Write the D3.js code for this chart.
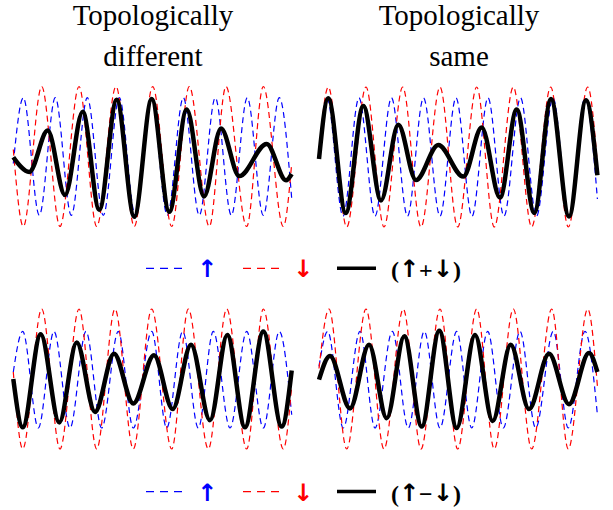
<!DOCTYPE html>
<html>
<head>
<meta charset="utf-8">
<script src="https://cdn.jsdelivr.net/npm/d3@7"></script>
<style>
  body { margin: 0; background: #fff; }
</style>
</head>
<body>
<div id="chart"></div>
<script>
// extrema: [position along the wave, amplitude]
// top left: topologically different, (up + down)
const tlUp = [[0, -0.1], [10, 0.84], [26, -0.84], [42, 0.84], [58, -0.84], [74, 0.84], [90, -0.84], [106, 0.84], [122, -0.84], [138, 0.84], [154, -0.84], [170, 0.84], [186, -0.84], [202, 0.84], [218, -0.84], [234, 0.84], [250, -0.84], [266, 0.84], [278.4, -0.6]];
const tlDown = [[0, 0.1], [10, -1], [28.4, 1], [46.7, -1], [65.7, 1], [83.4, -1], [102.7, 1], [121, -1], [139.4, 1], [158.4, -1], [176, 1], [196, -1], [212.7, 1], [233.4, -1], [250, 1], [270, -1], [278.4, -0.1]];
const tlTotal = [[0, -0.01], [16, -0.22], [34.4, 0.37], [51.7, -0.55], [69.4, 0.64], [86, -0.76], [103.4, 0.81], [121, -0.86], [138.4, 0.82], [156, -0.79], [173.4, 0.67], [190.7, -0.57], [207.7, 0.4], [226, -0.28], [253.4, 0.18], [272.7, -0.34], [278.4, -0.25]];

// top right: topologically same, (up + down)
const trUp = [[0, 0], [8, 0.845], [24, -0.845], [40, 0.845], [56, -0.845], [72.5, 0.845], [88.5, -0.845], [104.5, 0.845], [121, -0.845], [137, 0.845], [153, -0.845], [169, 0.845], [185, -0.845], [201.5, 0.845], [217.5, -0.845], [234, 0.845], [250, -0.845], [266, 0.845], [278.4, -0.6]];
const trDown = [[0, 0.05], [9.3, 1], [27.7, -1], [47, 1], [65, -1], [83.7, 1], [102, -1], [121, 1], [138.7, -1], [157.7, 1], [175.3, -1], [194.3, 1], [212.7, -1], [231.7, 1], [249.3, -1], [268.7, 1], [278.4, -0.1]];
const trTotal = [[0, -0.03], [9.3, 0.84], [26.7, -0.8], [44.3, 0.73], [62, -0.62], [79.3, 0.46], [97, -0.33], [119.3, 0.17], [144.3, -0.28], [162.7, 0.42], [181, -0.58], [197.7, 0.68], [215.3, -0.8], [232, 0.83], [250, -0.85], [267, 0.81], [278.4, -0.26]];

// bottom left: topologically different, (up - down)
const blUp = [[0, 0.1], [9.4, 0.68], [25, -0.7], [40.7, 0.68], [56.7, -0.7], [72.7, 0.68], [88.4, -0.7], [105, 0.68], [120, -0.7], [138.4, 0.68], [153.4, -0.7], [169.4, 0.68], [185, -0.7], [200, 0.68], [216.7, -0.7], [233.4, 0.68], [250, -0.7], [266, 0.68], [278.4, -0.51]];
const blDown = [[0, 0.1], [9.4, -1], [28.4, 1], [46.7, -1], [65.7, 1], [83.4, -1], [101.7, 1], [120, -1], [138.4, 1], [158.4, -1], [175, 1], [195, -1], [213.4, 1], [233.4, -1], [250, 1], [270, -1], [278.4, -0.1]];
const blTotal = [[0, 0], [9.4, -0.69], [27.4, 0.64], [46, -0.62], [63.4, 0.52], [81.7, -0.47], [100.7, 0.36], [120, -0.35], [140.7, 0.34], [159.4, -0.43], [177.7, 0.49], [196.7, -0.59], [214, 0.63], [231.7, -0.69], [250, 0.68], [268.4, -0.68], [278.4, 0.12]];

// bottom right: topologically same, (up - down)
const brUp = [[0, 0.18], [8.7, 0.68], [24.3, -0.7], [41, 0.68], [56, -0.7], [73.3, 0.68], [89.3, -0.7], [105.3, 0.68], [121, -0.7], [137.7, 0.68], [152.7, -0.7], [168.7, 0.68], [184.3, -0.7], [201, 0.68], [216.7, -0.7], [234.3, 0.68], [249.3, -0.7], [266, 0.68], [278.4, -0.51]];
const brDown = [[0, 0.15], [10, 1], [27.7, -1], [47, 1], [65, -1], [84.3, 1], [102, -1], [121, 1], [138.7, -1], [157.7, 1], [175.3, -1], [194.3, 1], [212.7, -1], [232.7, 1], [249.3, -1], [268.7, 1], [278.4, -0.1]];
const brTotal = [[0, -0.01], [11, 0.33], [31, -0.42], [50, 0.49], [67.7, -0.56], [85.3, 0.61], [102.7, -0.68], [120.3, 0.69], [137.7, -0.7], [156, 0.63], [173.7, -0.6], [191.7, 0.49], [210, -0.43], [230, 0.36], [250, -0.36], [270, 0.37], [278.4, 0.1]];

const titles = [["Topologically", "different"], ["Topologically", "same"]];
const legendOps = ["+", "−"];

const width = 613;
const height = 510;
const serif = "Liberation Serif, Times New Roman, Times, DejaVu Serif, serif";
const arrowFont = "DejaVu Sans, sans-serif";

const svg = d3.select("#chart").append("svg")
  .attr("width", width)
  .attr("height", height);

const x = d3.scaleLinear().domain([0, 278.4]).range([0, 278.4]);
const y = d3.scaleLinear().domain([-1, 1]).range([70, -70]);

const line = d3.line()
  .x(d => x(d[0]))
  .y(d => y(d[1]))
  .curve(d3.curveMonotoneX);

const panels = [
  { left: 13.3, cy: 156.5, up: tlUp, down: tlDown, total: tlTotal },
  { left: 319, cy: 157, up: trUp, down: trDown, total: trTotal },
  { left: 13.3, cy: 379, up: blUp, down: blDown, total: blTotal },
  { left: 319, cy: 379, up: brUp, down: brDown, total: brTotal }
];

panels.forEach(p => {
  const g = svg.append("g").attr("transform", `translate(${p.left},${p.cy})`);
  g.append("path").datum(p.up)
    .attr("d", line)
    .attr("fill", "none")
    .attr("stroke", "#0000ff")
    .attr("stroke-width", 1.2)
    .attr("stroke-dasharray", "6,4");
  g.append("path").datum(p.down)
    .attr("d", line)
    .attr("fill", "none")
    .attr("stroke", "#ff0000")
    .attr("stroke-width", 1.2)
    .attr("stroke-dasharray", "6,4");
  g.append("path").datum(p.total)
    .attr("d", line)
    .attr("fill", "none")
    .attr("stroke", "#000")
    .attr("stroke-width", 4.5)
    .attr("stroke-linejoin", "round");
});

// column titles
titles.forEach((lines, i) => {
  const cx = i === 0 ? 153 : 459;
  svg.append("text")
    .attr("text-anchor", "middle")
    .attr("font-family", serif)
    .attr("font-size", 29)
    .selectAll("tspan")
    .data(lines)
    .join("tspan")
    .attr("x", cx)
    .attr("y", (d, j) => 25 + j * 41)
    .text(d => d);
});

// legends
legendOps.forEach((op, i) => {
  const g = svg.append("g").attr("transform", `translate(0,${268.3 + i * 223.3})`);
  g.append("line").attr("x1", 146).attr("x2", 183)
    .attr("stroke", "#0000ff").attr("stroke-width", 1.2).attr("stroke-dasharray", "8,6");
  g.append("text").attr("x", 207).attr("y", 9).attr("text-anchor", "middle")
    .attr("font-family", arrowFont).attr("font-size", 24).attr("font-weight", "bold")
    .attr("fill", "#0000ff").text("↑");
  g.append("line").attr("x1", 243).attr("x2", 279)
    .attr("stroke", "#ff0000").attr("stroke-width", 1.2).attr("stroke-dasharray", "8,6");
  g.append("text").attr("x", 303).attr("y", 9).attr("text-anchor", "middle")
    .attr("font-family", arrowFont).attr("font-size", 24).attr("font-weight", "bold")
    .attr("fill", "#ff0000").text("↓");
  g.append("line").attr("x1", 337).attr("x2", 376)
    .attr("stroke", "#000").attr("stroke-width", 3.5);
  const t = g.append("text").attr("x", 391).attr("y", 10)
    .attr("font-family", serif).attr("font-size", 24).attr("font-weight", "bold");
  t.append("tspan").text("(");
  t.append("tspan").attr("font-family", arrowFont).attr("dy", -1).text("↑");
  t.append("tspan").attr("dy", 1).text(op);
  t.append("tspan").attr("font-family", arrowFont).attr("dy", -1).text("↓");
  t.append("tspan").attr("dy", 1).text(")");
});
</script>
</body>
</html>
